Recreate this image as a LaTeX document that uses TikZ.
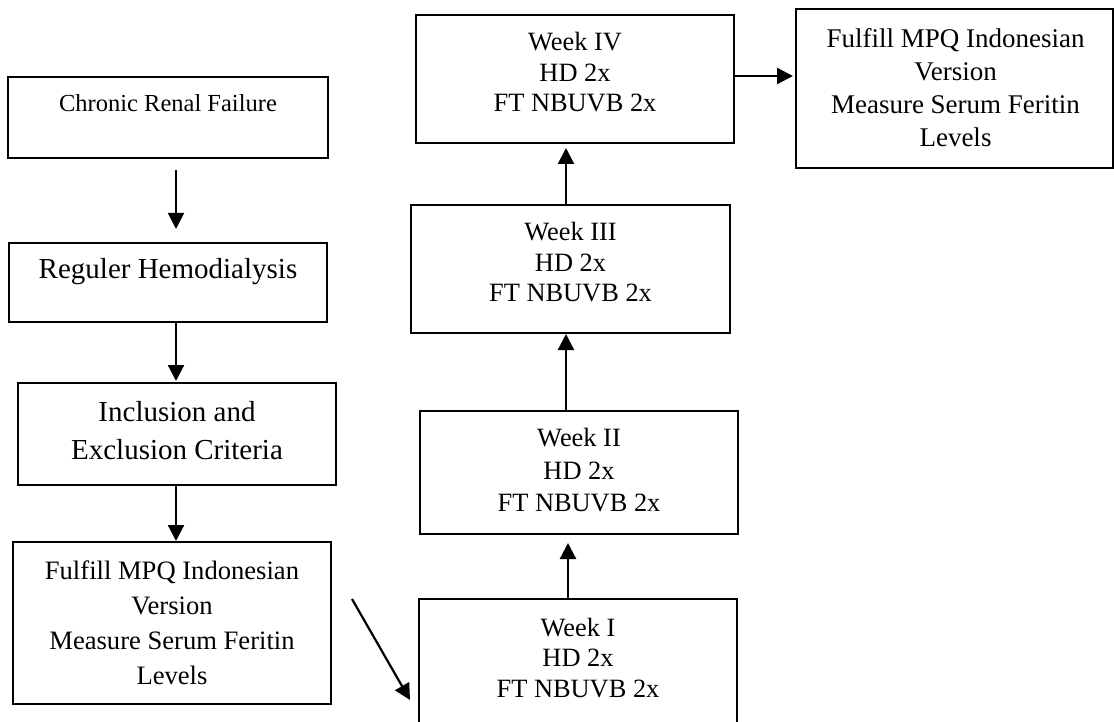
\documentclass[tikz,border=0pt]{standalone}
\usepackage{fontspec}
\setmainfont{Liberation Serif}
\usetikzlibrary{arrows.meta}
\begin{document}
\begin{tikzpicture}[x=1pt,y=-1pt,
  box/.style={draw, line width=2pt, inner sep=0pt},
  lbl/.style={align=center, inner sep=0pt},
  arr/.style={line width=2.2pt, -{Triangle[length=16pt,width=16pt]}},
  fa/.style={font=\fontsize{24.5}{30}\selectfont},
  fb/.style={font=\fontsize{29}{38}\selectfont},
  fc/.style={font=\fontsize{26.6}{35}\selectfont},
  fw/.style={font=\fontsize{26.4}{30.5}\selectfont},
  fr/.style={font=\fontsize{27}{33}\selectfont},
]
\clip (0,0) rectangle (1114,722);
\fill[white] (0,0) rectangle (1114,722);
% boxes
\node[box, minimum width=320pt, minimum height=81pt] (b1) at (168,117.5) {};
\node[box, minimum width=318pt, minimum height=79pt] (b2) at (168,282.5) {};
\node[box, minimum width=318pt, minimum height=102pt] (b3) at (177,434) {};
\node[box, minimum width=318pt, minimum height=162pt] (b4) at (172,623) {};
\node[box, minimum width=318pt, minimum height=127pt] (w1) at (578,662.5) {};
\node[box, minimum width=318pt, minimum height=123pt] (w2) at (579,472.5) {};
\node[box, minimum width=319pt, minimum height=128pt] (w3) at (570.5,269) {};
\node[box, minimum width=318pt, minimum height=128pt] (w4) at (575,79) {};
\node[box, minimum width=317pt, minimum height=159pt] (r) at (954.5,88.5) {};
% texts
\node[lbl, fa] (t1) at (168,103) {Chronic Renal Failure};
\node[lbl, fb] (t2) at (168,272) {Reguler Hemodialysis};
\node[lbl, fb] (t3) at (177,431) {Inclusion and\\Exclusion Criteria};
\node[lbl, fc] (t4) at (172,622.5) {Fulfill MPQ Indonesian\\Version\\Measure Serum Feritin\\Levels};
\node[lbl, fw] (tw1) at (578,658) {Week I\\HD 2x\\FT NBUVB 2x};
\node[lbl, fw, font=\fontsize{26.4}{32.5}\selectfont] (tw2) at (579,470.5) {Week II\\HD 2x\\FT NBUVB 2x};
\node[lbl, fw] (tw3) at (570.5,262.5) {Week III\\HD 2x\\FT NBUVB 2x};
\node[lbl, fw] (tw4) at (575,72.5) {Week IV\\HD 2x\\FT NBUVB 2x};
\node[lbl, fr] (tr) at (955.5,87.5) {Fulfill MPQ Indonesian\\Version\\Measure Serum Feritin\\Levels};
% connectors
\draw[arr, line width=1.6pt] ([xshift=8pt,yshift=-11pt]b1.south) -- ([xshift=8pt,yshift=13pt]b2.north);
\draw[arr] ([xshift=8pt]b2.south) -- ([xshift=-1pt,yshift=1pt]b3.north);
\draw[arr] ([xshift=-1pt]b3.south) -- ([xshift=4pt]b4.north);
\coordinate (ds) at ([xshift=20pt,yshift=24pt]b4.east);
\coordinate (de) at ([xshift=-8pt,yshift=-37.5pt]w1.west);
\draw[arr] (ds) -- (de);
\draw[arr] ([xshift=-10pt]w1.north) -- ([xshift=-11pt,yshift=-8pt]w2.south);
\draw[arr] ([xshift=-13pt]w2.north) -- ([xshift=-4.5pt]w3.south);
\draw[arr] ([xshift=-4.5pt]w3.north) -- ([xshift=-9pt,yshift=-4pt]w4.south);
\draw[arr] ([yshift=3pt]w4.east) -- ([xshift=-2pt,yshift=12.5pt]r.west);
\end{tikzpicture}
\end{document}
